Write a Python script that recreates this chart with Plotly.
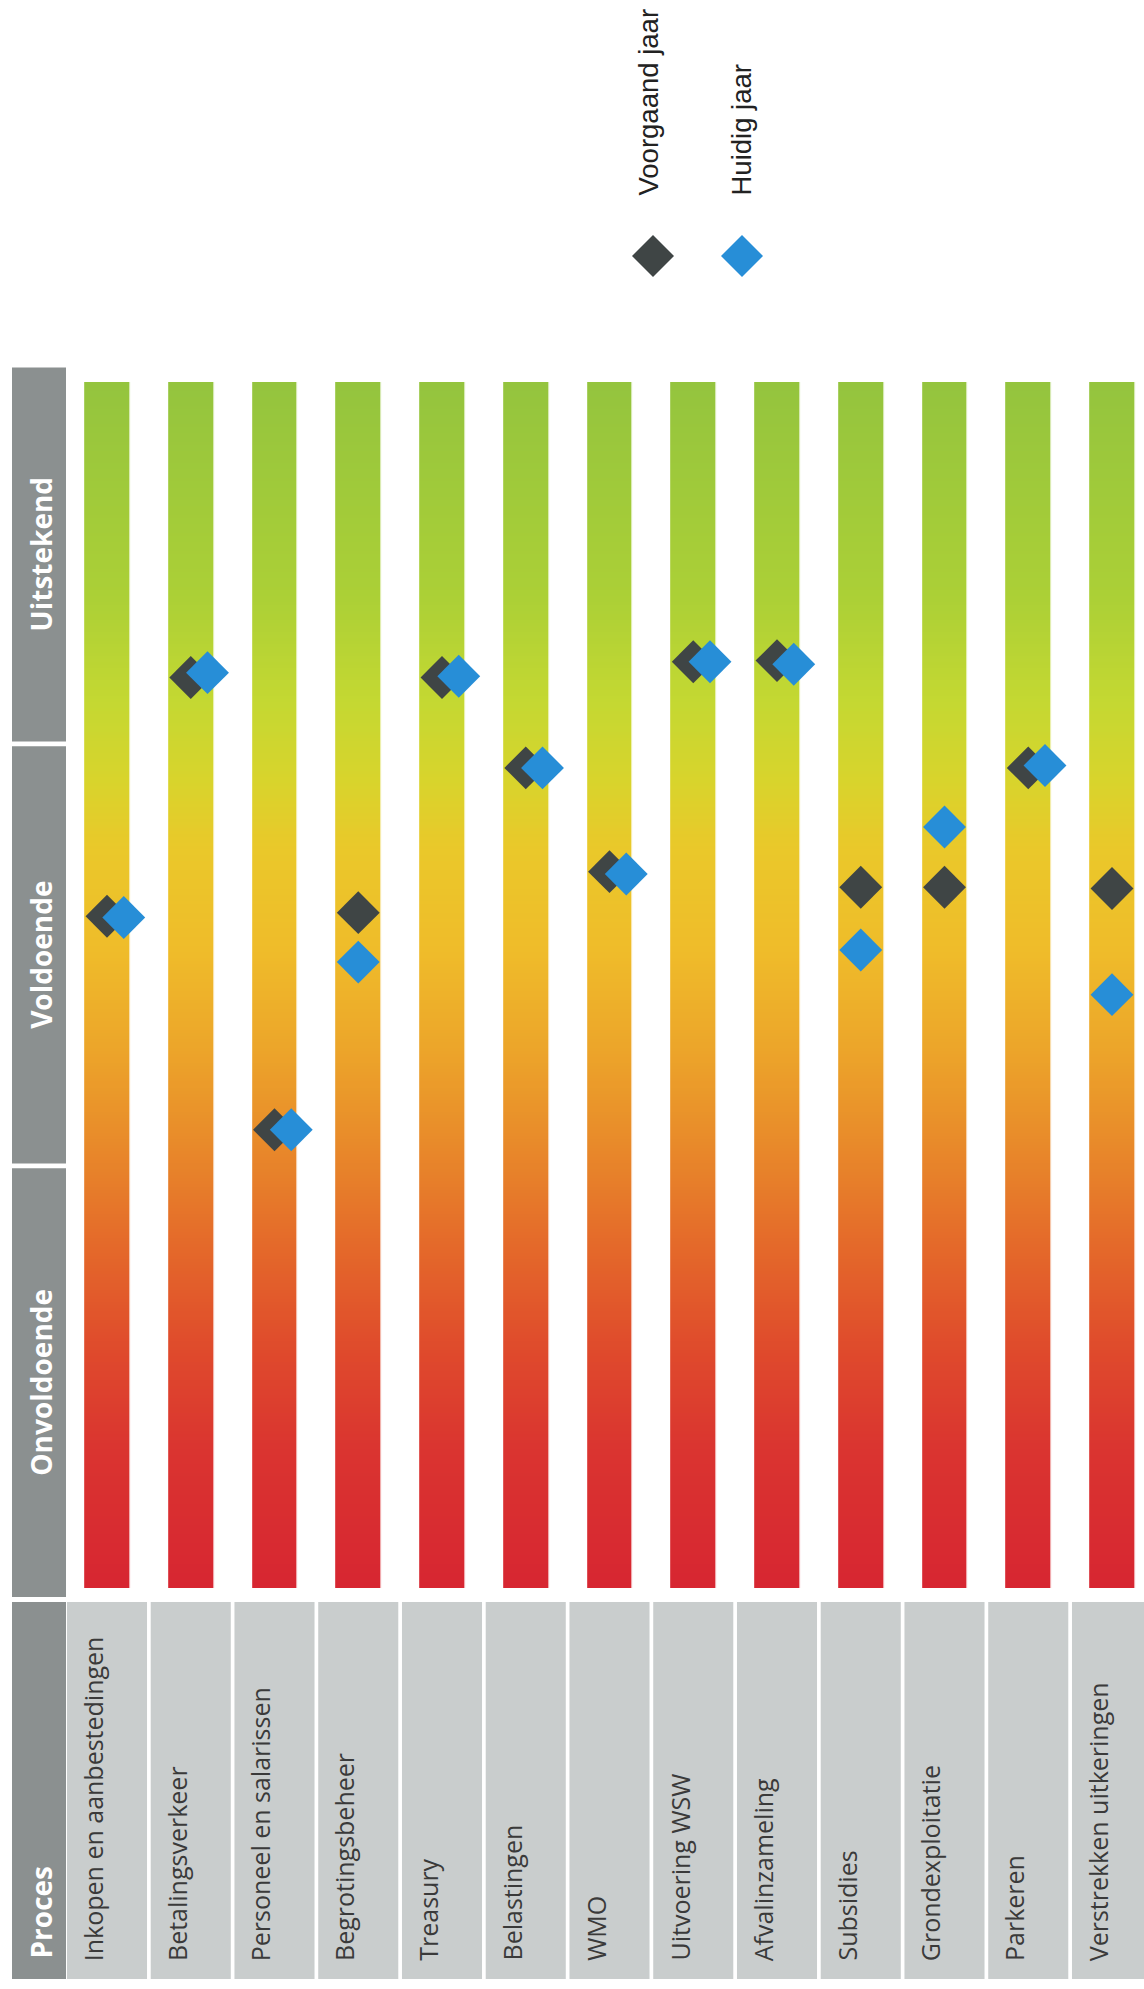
import numpy as np
import plotly.graph_objects as go

# ---------------- data ----------------
processen = [
    "Inkopen en aanbestedingen", "Betalingsverkeer", "Personeel en salarissen",
    "Begrotingsbeheer", "Treasury", "Belastingen", "WMO", "Uitvoering WSW",
    "Afvalinzameling", "Subsidies", "Grondexploitatie", "Parkeren",
    "Verstrekken uitkeringen",
]
voorgaand_jaar = [5.57, 7.55, 3.80, 5.60, 7.55, 6.80, 5.94, 7.68, 7.69, 5.81, 5.81, 6.80, 5.80]
huidig_jaar = [5.56, 7.59, 3.80, 5.19, 7.56, 6.80, 5.92, 7.68, 7.66, 5.29, 6.31, 6.82, 4.92]
oordelen = ["Onvoldoende", "Voldoende", "Uitstekend"]
oordeel_grenzen = [0, 3.5, 7, 10]
schaal = [0, 10]
reeksen = ["Voorgaand jaar", "Huidig jaar"]

# ---------------- geometry / style ----------------
W, H = 1144, 1989
X0_PX, DX_PX = 107.0, 83.75     # pixel of category 0, pixels per category
Y0_PX, DY_PX = 1588.0, 120.6    # pixel of score 0, pixels per score unit


def vx(px):
    return (px - X0_PX) / DX_PX


def vy(py):
    return (Y0_PX - py) / DY_PX


C_DARK = "#3f4545"
C_BLUE = "#278ed7"
C_HEAD = "#8b9090"
C_CELL = "#c9cdcd"
C_TEXT = "#3a3a3a"

grad_stops = [
    (0.000, "#d72631"), (0.114, "#da3430"), (0.197, "#df4a2c"), (0.280, "#e4682a"),
    (0.363, "#e8882a"), (0.446, "#eca52a"), (0.529, "#efbc2a"), (0.612, "#eac82a"),
    (0.670, "#d8d42c"), (0.736, "#c4d832"), (0.819, "#acd036"), (1.000, "#94c43e"),
]

n = len(processen)
idx = np.arange(n)

fig = go.Figure()

# gradient bars
y_edges = np.linspace(schaal[0], schaal[1], 401)
y_mid = (y_edges[:-1] + y_edges[1:]) / 2
z = np.tile(y_mid[:, None], (1, n))
fig.add_trace(go.Heatmap(
    x=idx, y=y_edges, z=z, colorscale=[[p, c] for p, c in grad_stops],
    zmin=schaal[0], zmax=schaal[1], showscale=False, xgap=DX_PX - 45, ygap=0,
    hoverinfo="skip",
))

# markers
vj = np.array(voorgaand_jaar)
hj = np.array(huidig_jaar)
shift = np.where(np.abs(hj - vj) < 0.3, 0.2, 0.0)
fig.add_trace(go.Scatter(
    x=idx, y=vj, mode="markers", name=reeksen[0],
    marker=dict(symbol="diamond", size=33, color=C_DARK),
    hovertext=processen,
))
fig.add_trace(go.Scatter(
    x=idx + shift, y=hj, mode="markers", name=reeksen[1],
    marker=dict(symbol="diamond", size=33, color=C_BLUE),
    hovertext=processen,
))

shapes = []
annotations = []

# score header bands
hx0, hx1 = vx(12), vx(66)
for k, lab in enumerate(oordelen):
    lo = oordeel_grenzen[k] + (0.02 if k > 0 else -0.075)
    hi = oordeel_grenzen[k + 1] - (0.02 if k < len(oordelen) - 1 else -0.12)
    shapes.append(dict(type="rect", xref="x", yref="y", x0=hx0, x1=hx1, y0=lo, y1=hi,
                       fillcolor=C_HEAD, line=dict(width=0), layer="below"))
    annotations.append(dict(x=vx(41), y=(lo + hi) / 2, xref="x", yref="y",
                            text="<b>%s</b>" % lab, textangle=-90, showarrow=False,
                            xanchor="center", yanchor="middle",
                            font=dict(family="Open Sans", size=28, color="white")))

# process table
ty0, ty1 = vy(1979), vy(1602)
shapes.append(dict(type="rect", xref="x", yref="y", x0=hx0, x1=hx1, y0=ty0, y1=ty1,
                   fillcolor=C_HEAD, line=dict(width=0), layer="below"))
annotations.append(dict(x=vx(40), y=vy(1961), xref="x", yref="y", text="<b>Proces</b>",
                        textangle=-90, showarrow=False, xanchor="center", yanchor="bottom",
                        font=dict(family="Open Sans", size=28, color="white")))
for i, p in enumerate(processen):
    shapes.append(dict(type="rect", xref="x", yref="y", x0=i - 0.478, x1=i + 0.478,
                       y0=ty0, y1=ty1, fillcolor=C_CELL, line=dict(width=0), layer="below"))
    annotations.append(dict(x=i - 0.17, y=vy(1963), xref="x", yref="y", text=p,
                            textangle=-90, showarrow=False, xanchor="center", yanchor="bottom",
                            font=dict(family="Open Sans", size=25, color=C_TEXT)))

# legend (rotated, drawn manually)
for k, (lab, col, cx, tx) in enumerate([(reeksen[0], C_DARK, 653, 648), (reeksen[1], C_BLUE, 742, 741)]):
    cy, r = 256, 21
    path = "M %f,%f L %f,%f L %f,%f L %f,%f Z" % (
        vx(cx - r), vy(cy), vx(cx), vy(cy - r), vx(cx + r), vy(cy), vx(cx), vy(cy + r))
    shapes.append(dict(type="path", xref="x", yref="y", path=path, fillcolor=col,
                       line=dict(width=0)))
    annotations.append(dict(x=vx(tx), y=vy(198), xref="x", yref="y", text=lab,
                            textangle=-90, showarrow=False, xanchor="center", yanchor="bottom",
                            font=dict(family="Liberation Sans", size=27.5, color="#222222")))

fig.update_layout(
    width=W, height=H, margin=dict(l=0, r=0, t=0, b=0),
    paper_bgcolor="white", plot_bgcolor="white", showlegend=False,
    shapes=shapes, annotations=annotations,
    xaxis=dict(range=[vx(0), vx(W)], visible=False, fixedrange=True),
    yaxis=dict(range=[vy(H), vy(0)], visible=False, fixedrange=True),
)

fig.write_html("out.html")
